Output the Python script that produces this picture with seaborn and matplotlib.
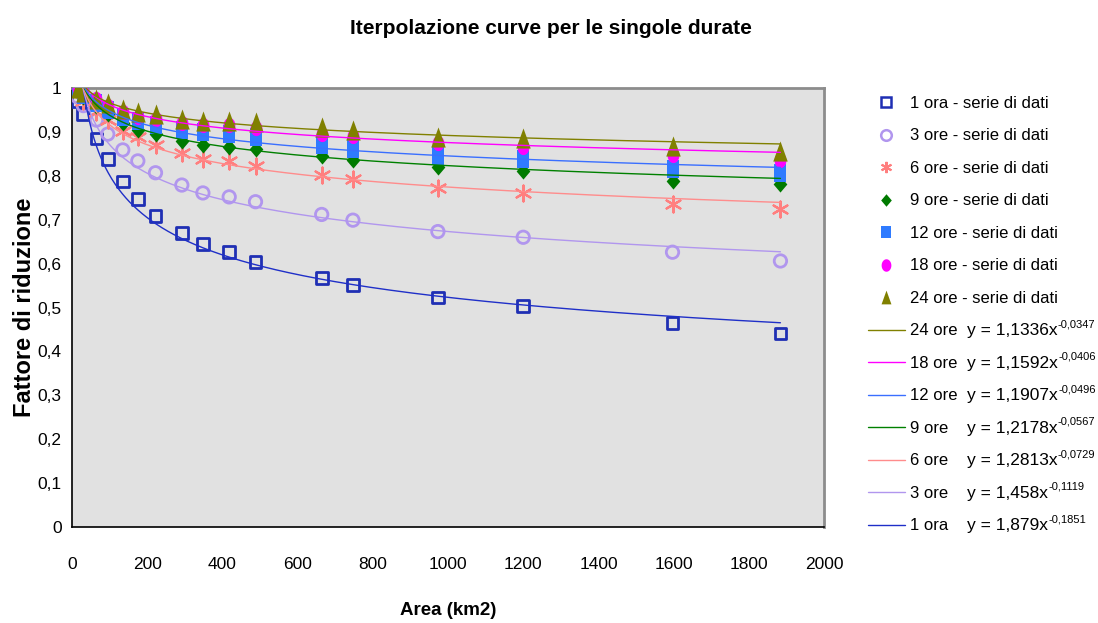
import numpy as np
import pandas as pd
import seaborn as sns
import matplotlib.pyplot as plt
from matplotlib.lines import Line2D

sns.set_style("white")
plt.rcParams['font.family'] = ['Liberation Sans', 'DejaVu Sans']
plt.rcParams['text.color'] = 'black'
plt.rcParams['axes.labelcolor'] = 'black'

# aree (km2) e fattori di riduzione
area = [15, 30, 65, 95, 135, 175, 222, 292, 348, 418, 488, 664, 747, 973, 1200, 1597, 1884]
f_1 = [0.97, 0.94, 0.885, 0.838, 0.787, 0.747, 0.708, 0.669, 0.645, 0.626, 0.604,
       0.567, 0.551, 0.523, 0.504, 0.465, 0.441]
f_3 = [0.98, 0.96, 0.927, 0.895, 0.859, 0.834, 0.807, 0.779, 0.761, 0.752, 0.741,
       0.712, 0.699, 0.673, 0.660, 0.626, 0.606]
f_6 = [0.99, 0.97, 0.945, 0.927, 0.902, 0.889, 0.870, 0.852, 0.838, 0.834, 0.822,
       0.802, 0.793, 0.773, 0.762, 0.736, 0.724]
f_9 = [0.995, 0.98, 0.96, 0.94, 0.92, 0.905, 0.895, 0.88, 0.87, 0.866, 0.861,
       0.845, 0.836, 0.819, 0.812, 0.788, 0.781]
f_12 = [1.0, 0.985, 0.965, 0.95, 0.935, 0.925, 0.915, 0.905, 0.9, 0.895, 0.889,
        0.87, 0.86, 0.845, 0.838, 0.815, 0.807]
f_18 = [1.0, 0.99, 0.975, 0.96, 0.945, 0.935, 0.93, 0.92, 0.915, 0.915, 0.91,
        0.895, 0.89, 0.875, 0.865, 0.847, 0.835]
f_24 = [1.0, 0.99, 0.975, 0.965, 0.952, 0.945, 0.94, 0.93, 0.925, 0.925, 0.922,
        0.912, 0.905, 0.889, 0.886, 0.867, 0.857]

durate = ['1 ora', '3 ore', '6 ore', '9 ore', '12 ore', '18 ore', '24 ore']
valori = [f_1, f_3, f_6, f_9, f_12, f_18, f_24]
coef_a = [1.879, 1.458, 1.2813, 1.2178, 1.1907, 1.1592, 1.1336]
coef_b = [-0.1851, -0.1119, -0.0729, -0.0567, -0.0496, -0.0406, -0.0347]
testo_a = ['1,879', '1,458', '1,2813', '1,2178', '1,1907', '1,1592', '1,1336']
testo_b = ['-0,1851', '-0,1119', '-0,0729', '-0,0567', '-0,0496', '-0,0406', '-0,0347']

colori = ['#1f2fb4', '#b196ee', '#ff7f7f', '#007a00', '#2f7bff', '#ff00ff', '#808000']
linee = ['#1f2fc8', '#b196ee', '#ff8c8c', '#008000', '#3a6fff', '#ff00ff', '#808000']

# marker stile Excel (forme piu' alte che larghe)
rett = [(-0.75, -1), (0.75, -1), (0.75, 1), (-0.75, 1), (-0.75, -1)]
rombo = [(0, -1), (0.85, 0), (0, 1), (-0.85, 0), (0, -1)]
tri = [(-0.72, -1), (0.72, -1), (0, 1), (-0.72, -1)]
ell = [(0.78 * np.cos(t), np.sin(t)) for t in np.linspace(0, 2 * np.pi, 30)]
marker = ['s', 'o', (6, 2, 0), rombo, rett, ell, tri]
aperti = [True, True, False, False, False, False, False]
dim = [72, 80, 130, 135, 150, 120, 210]
mdim = [8, 8.5, 9, 10, 10, 10, 11]
spess = [2, 2, 1.6, 0, 0, 0, 0]

fig = plt.figure(figsize=(10.98, 6.23), dpi=100)
ax = fig.add_axes([0.0656, 0.1541, 0.6849, 0.7046])
ax.set_facecolor('#e1e1e1')

for i in range(7):
    df = pd.DataFrame({'area': area, 'f': valori[i]})
    fc = 'none' if aperti[i] else colori[i]
    sns.scatterplot(data=df, x='area', y='f', marker=marker[i], s=dim[i],
                    facecolor=fc, edgecolor=colori[i],
                    linewidth=spess[i], ax=ax, zorder=3 + i)

# linee di tendenza (potenza) dalle equazioni
xx = np.linspace(area[0], area[-1], 600)
for i in range(7):
    sns.lineplot(x=xx, y=coef_a[i] * xx ** coef_b[i], color=linee[i], lw=1,
                 ax=ax, zorder=12, sort=False)

ax.set_xlim(0, 2000)
ax.set_ylim(0, 1)
ax.set_xticks(range(0, 2001, 200))
ax.set_yticks(np.arange(0, 1.01, 0.1))
ax.set_yticklabels(['0'] + ['0,%d' % k for k in range(1, 10)] + ['1'])
ax.tick_params(axis='both', direction='inout', length=9, width=1, labelsize=12.5,
               colors='black', pad=3)
ax.tick_params(axis='x', pad=17)
for s in ['left', 'bottom']:
    ax.spines[s].set_color('black')
    ax.spines[s].set_linewidth(1.2)
for s in ['top', 'right']:
    ax.spines[s].set_color('#8c8c8c')
    ax.spines[s].set_linewidth(2)

ax.set_xlabel('Area (km2)', fontsize=13.5, fontweight='bold', labelpad=22)
ax.set_ylabel('Fattore di riduzione', fontsize=17, fontweight='bold', labelpad=1)
fig.text(0.502, 0.955, 'Iterpolazione curve per le singole durate', ha='center',
         va='center', fontsize=15, fontweight='bold')

# legenda
handles, labels = [], []
for i in range(7):
    fc = 'none' if aperti[i] else colori[i]
    handles.append(Line2D([], [], ls='none', marker=marker[i], markersize=mdim[i] * 0.9,
                          markerfacecolor=fc, markeredgecolor=colori[i],
                          markeredgewidth=spess[i] * 0.9))
    labels.append(durate[i] + ' - serie di dati')
for i in range(6, -1, -1):
    handles.append(Line2D([], [], color=linee[i], lw=1))
    labels.append(durate[i])

leg = fig.legend(handles, labels, loc='upper left', bbox_to_anchor=(0.783, 0.8594),
                 frameon=False, fontsize=12, handlelength=2.2, handletextpad=0.3,
                 labelspacing=1.05, borderpad=0)

fig.canvas.draw()
inv = fig.transFigure.inverted()
testi = leg.get_texts()
for k, i in enumerate(range(6, -1, -1)):
    bb = testi[7 + k].get_window_extent()
    yc = inv.transform((0, (bb.y0 + bb.y1) / 2))[1]
    t = fig.text(0.881, yc, 'y = %sx' % testo_a[i], ha='left', va='center', fontsize=12.5)
    ax.annotate(testo_b[i], xy=(1.0, 0.6), xycoords=t, ha='left', va='bottom',
                fontsize=8, annotation_clip=False)

fig.savefig('out.png', dpi=100)
